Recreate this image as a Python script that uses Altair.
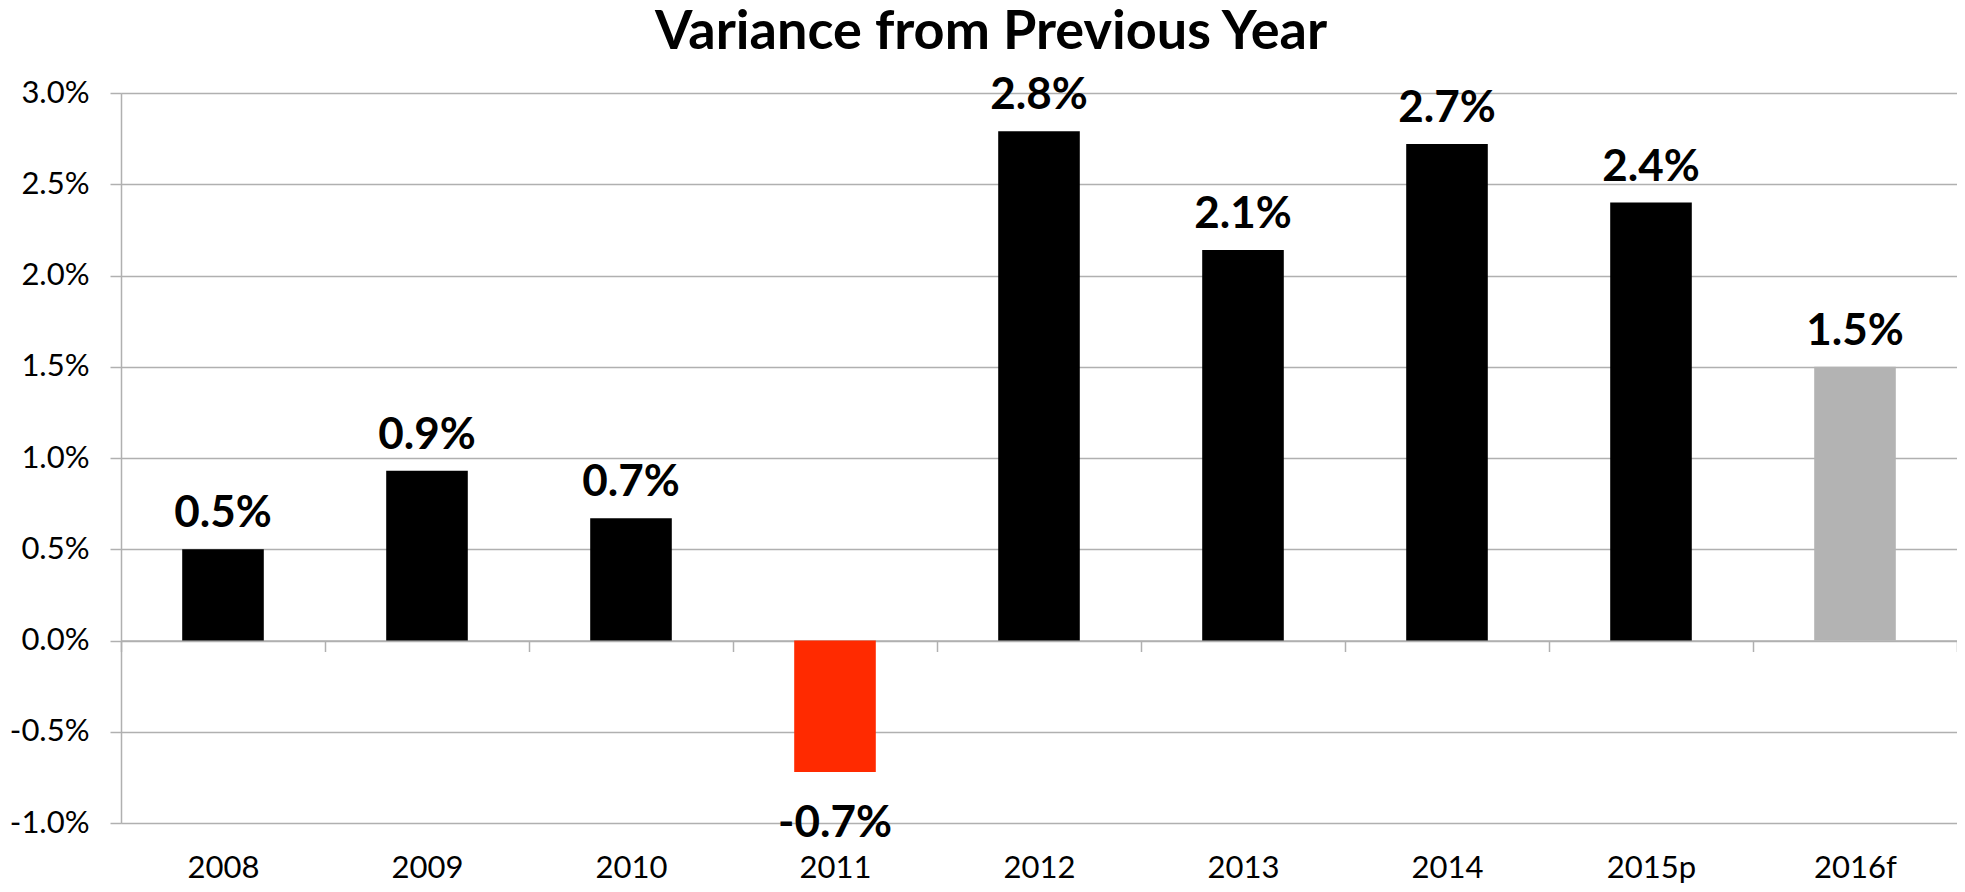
import altair as alt
import pandas as pd

years = ["2008", "2009", "2010", "2011", "2012", "2013", "2014", "2015p", "2016f"]
values = [0.0050, 0.0093, 0.0067, -0.0072, 0.0279, 0.0214, 0.0272, 0.0240, 0.0150]
bar_colors = ["#000000", "#000000", "#000000", "#FF2A00", "#000000",
              "#000000", "#000000", "#000000", "#B3B3B3"]
y_ticks = [-0.010, -0.005, 0.0, 0.005, 0.010, 0.015, 0.020, 0.025, 0.030]

df = pd.DataFrame({"year": years, "value": values, "color": bar_colors})

W, H = 1836, 730
GRID = "#B0B0B0"
label_expr = "(datum.value < 0 ? '-' : '') + format(abs(datum.value), '.1%')"

x_enc = alt.X(
    "year:N", sort=years, title=None,
    scale=alt.Scale(paddingInner=0, paddingOuter=0),
    axis=alt.Axis(
        orient="bottom", offset=-H / 4, tickBand="extent",
        domainColor=GRID, domainWidth=1.5, tickColor=GRID, tickWidth=1.5, tickSize=11,
        labelAngle=0, labelFont="Lato", labelFontSize=31, labelColor="#000000",
        labelPadding=202, grid=False,
    ),
)
y_enc = alt.Y(
    "value:Q", title=None,
    scale=alt.Scale(domain=[-0.01, 0.03], nice=False, zero=False),
    axis=alt.Axis(
        values=y_ticks, labelExpr=label_expr,
        domainColor=GRID, domainWidth=1.5, tickColor=GRID, tickWidth=1.5, tickSize=11,
        gridColor=GRID, gridWidth=1.5,
        labelFont="Lato", labelFontSize=31, labelColor="#000000", labelPadding=21,
    ),
)

base = alt.Chart(df)

bars = base.mark_bar(width={"band": 0.4}).encode(
    x=x_enc, y=y_enc,
    color=alt.Color("color:N", scale=None, legend=None),
)

lbl = base.transform_calculate(label=label_expr)

pos_text = lbl.transform_filter("datum.value >= 0").mark_text(
    baseline="alphabetic", dy=-22, font="Lato", fontWeight="bold", fontSize=44, color="#000000"
).encode(x=alt.X("year:N", sort=years), y="value:Q", text="label:N")

neg_text = lbl.transform_filter("datum.value < 0").mark_text(
    baseline="alphabetic", dy=65, font="Lato", fontWeight="bold", fontSize=44, color="#000000"
).encode(x=alt.X("year:N", sort=years), y="value:Q", text="label:N")

chart = alt.layer(bars, pos_text, neg_text).properties(
    width=W, height=H,
    autosize=alt.AutoSizeParams(type="none"),
    padding={"left": 113, "top": 85, "right": 0, "bottom": 61},
    title=alt.TitleParams(
        "Variance from Previous Year", font="Lato", fontSize=54, fontWeight="bold",
        color="#000000", anchor="middle", frame="group", dx=-48, offset=14,
    ),
).configure_view(stroke=None).configure(background="#FFFFFF")

chart.save("out.html", embed_options={"renderer": "svg", "actions": False})
